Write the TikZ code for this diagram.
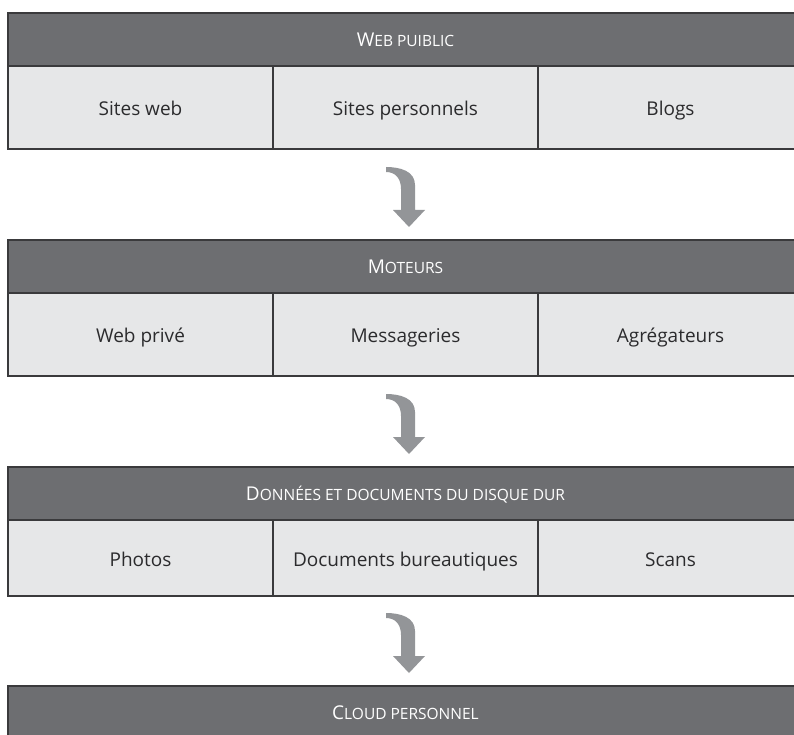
\documentclass[tikz,border=0pt]{standalone}
\usepackage{fontspec}
\setmainfont{Open Sans}
\usetikzlibrary{positioning,calc}

\definecolor{hdrgray}{HTML}{6D6E71}
\definecolor{cellgray}{HTML}{E6E7E8}
\definecolor{linegray}{HTML}{3A3A3C}
\definecolor{arrgray}{HTML}{939598}
\definecolor{txtgray}{HTML}{2B2B2D}

% capitale + petites capitales simulees
\newcommand{\fakesc}[2]{{\fontsize{19}{22}\selectfont #1}{\fontsize{15.5}{18}\selectfont #2}}

\tikzset{
	hdr/.style={draw=linegray, line width=1.6pt, fill=hdrgray, text=white,
		minimum width=795pt, minimum height=53pt, inner sep=0pt, outer sep=0pt, anchor=north west,
		text height=13.5pt, text depth=0pt},
	cell/.style={draw=linegray, line width=1.6pt, fill=cellgray, text=txtgray,
		minimum width=265pt, minimum height=83pt, inner sep=0pt, outer sep=0pt, anchor=north west,
		font=\fontsize{19}{22}\selectfont, text height=16.5pt, text depth=0pt},
	bentarr/.pic={
		\fill[arrgray] (-23,-60) .. controls (-9,-60) and (6,-56) .. (6,-42) -- (6,-17) -- (16,-17)
			-- (0,0) -- (-16,-17) -- (-8,-17) -- (-8,-38)
			.. controls (-8,-49) and (-14,-55) .. (-23,-55) -- cycle;
	}
}

\begin{document}
\begin{tikzpicture}[x=1pt,y=-1pt]
		\useasboundingbox (0,0) rectangle (794,735);

		\node[hdr] (hdrA) at (8,13) {\fakesc{W}{EB PUIBLIC}};
		\node[cell] (sitesweb) at (hdrA.south west) {Sites web};
		\node[cell] (sitesperso) at (sitesweb.north east) {Sites personnels};
		\node[cell] (blogs) at (sitesperso.north east) {Blogs};

		\node[hdr] (hdrB) at (8,240) {\fakesc{M}{OTEURS}};
		\node[cell] (webprive) at (hdrB.south west) {Web privé};
		\node[cell] (messageries) at (webprive.north east) {Messageries};
		\node[cell] (agregateurs) at (messageries.north east) {Agrégateurs};

		\node[hdr] (hdrC) at (8,467) {\fakesc{D}{ONNÉES ET DOCUMENTS DU DISQUE DUR}};
		\node[cell, minimum height=76pt] (photos) at (hdrC.south west) {Photos};
		\node[cell, minimum height=76pt] (bureautique) at (photos.north east) {Documents bureautiques};
		\node[cell, minimum height=76pt] (scans) at (bureautique.north east) {Scans};

		\node[hdr] (hdrD) at (8,686) {\fakesc{C}{LOUD PERSONNEL}};

		\foreach \n in {B,C,D}{
			\pic at ($(hdr\n.north)+(3.5,-13)$) {bentarr};
		}
\end{tikzpicture}
\end{document}
